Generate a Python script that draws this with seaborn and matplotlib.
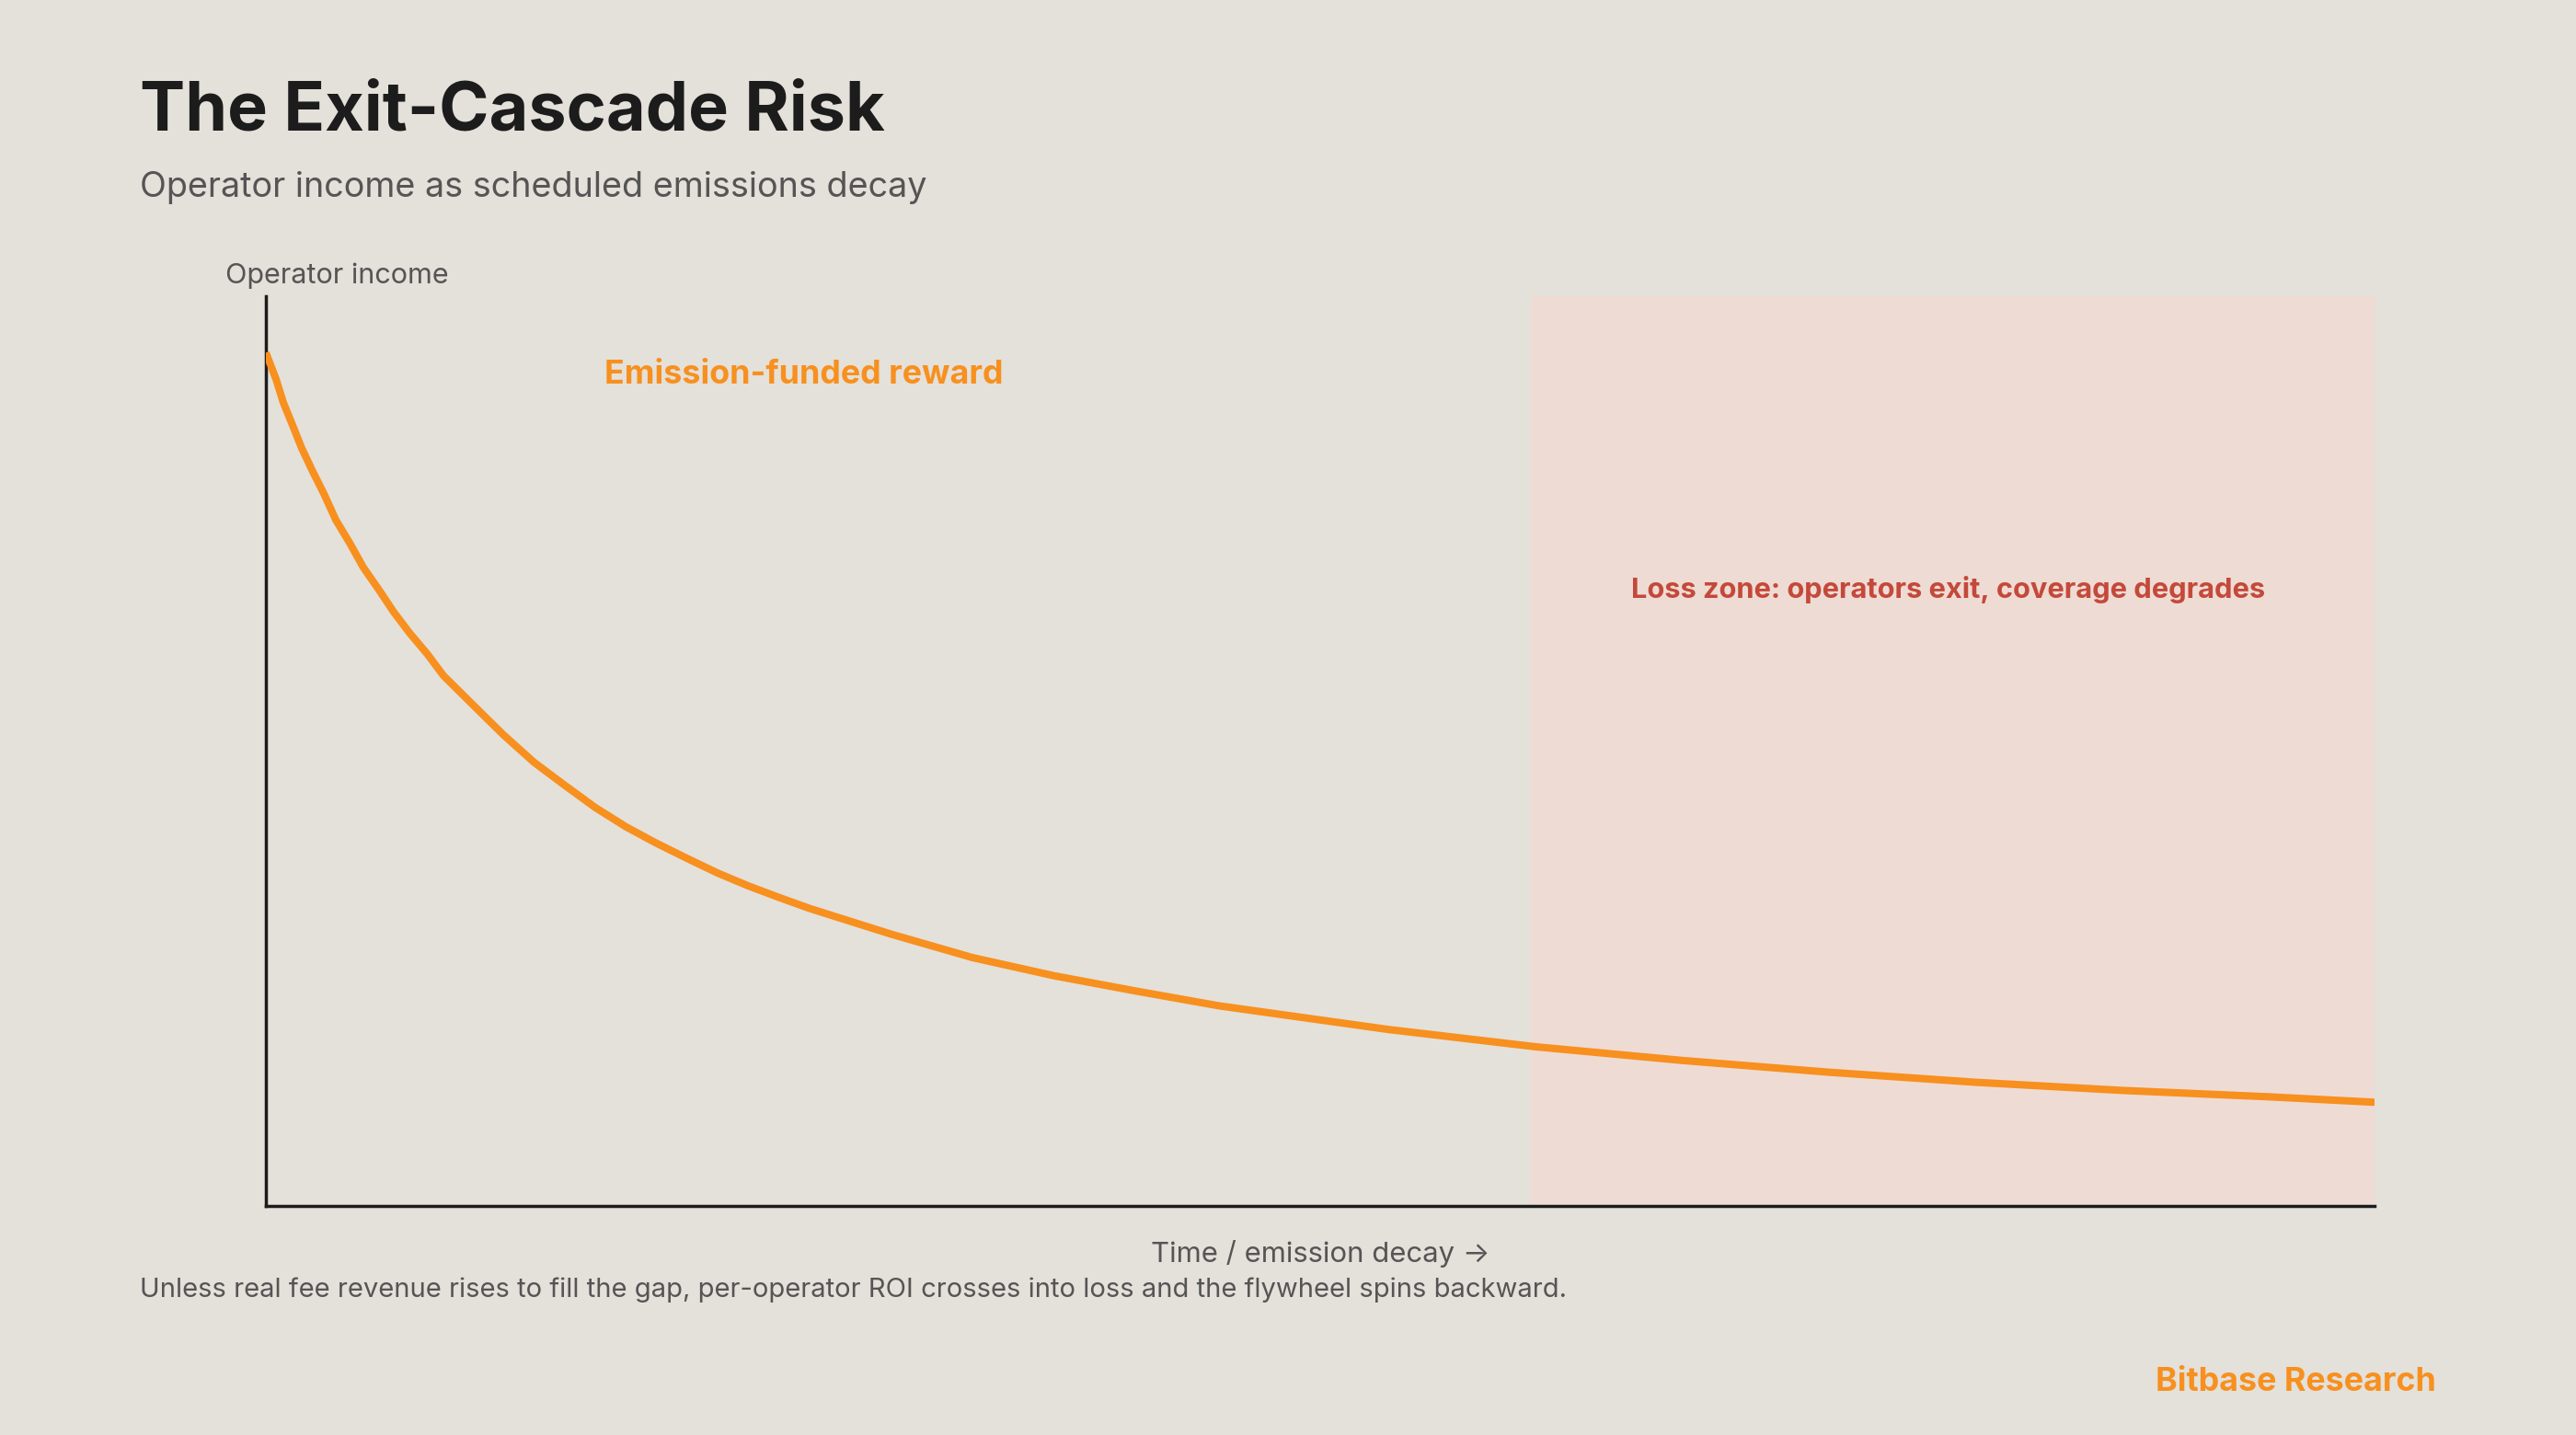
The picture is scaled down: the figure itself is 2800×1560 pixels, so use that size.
import numpy as np
import pandas as pd
import seaborn as sns
import matplotlib.pyplot as plt

# Curve (time 0-100, income 0-100)
time = [0, 0.48, 0.83, 1.27, 1.70, 2.23, 2.75, 3.32, 3.97, 4.62, 5.37, 6.06,
        6.81, 7.68, 8.42, 9.77, 11.26, 12.70, 14.14, 15.62, 17.06, 18.50,
        19.98, 21.42, 22.86, 24.35, 25.79, 29.62, 33.51, 37.39, 41.32, 45.20,
        53.23, 60.21, 67.15, 74.13, 81.06, 88.05, 94.98, 100]
income = [93.8, 90.9, 88.3, 85.8, 83.3, 80.7, 78.3, 75.4, 72.9, 70.2, 67.7, 65.3,
          63.0, 60.6, 58.3, 55.2, 51.8, 48.8, 46.3, 43.8, 41.7, 39.9,
          38.2, 36.6, 35.2, 33.9, 32.7, 29.9, 27.3, 25.3, 23.6, 22.0,
          19.4, 17.5, 16.0, 14.7, 13.6, 12.7, 12.0, 11.4]
loss_start = 60
loss_end = 100

df = pd.DataFrame({"time": time, "income": income})

BG = "#E4E0DA"
ORANGE = "#F7901E"
RED = "#C4493A"
DARK = "#1C1C1C"
GREY = "#555555"

sns.set_theme(style="white")
plt.rcParams["font.family"] = ["Inter", "DejaVu Sans"]

fig = plt.figure(figsize=(14, 7.8), dpi=200, facecolor=BG)
ax = fig.add_axes([0.1032, 0.1596, 0.9218 - 0.1032, 0.7936 - 0.1596])
ax.set_facecolor(BG)

# loss zone shading + income curve
ax.axvspan(loss_start, loss_end, color="#EEDBD4", lw=0, zorder=0)
sns.lineplot(data=df, x="time", y="income", ax=ax, color=ORANGE, lw=2.9,
             solid_capstyle="butt", solid_joinstyle="round", zorder=3)

ax.set_xlim(0, 100)
ax.set_ylim(0, 100)
ax.set_xticks([])
ax.set_yticks([])
ax.set_xlabel("")
ax.set_ylabel("")
for s in ["top", "right"]:
    ax.spines[s].set_visible(False)
for s in ["left", "bottom"]:
    ax.spines[s].set_color(DARK)
    ax.spines[s].set_linewidth(1.25)

fig.text(0.0543, 0.9096, "The Exit-Cascade Risk", fontsize=26.5, fontweight="bold",
         color=DARK, va="baseline")
fig.text(0.0543, 0.8628, "Operator income as scheduled emissions decay", fontsize=13.6,
         color=GREY, va="baseline")
fig.text(0.0875, 0.8026, "Operator income", fontsize=11, color=GREY, va="baseline")
fig.text(0.2346, 0.7327, "Emission-funded reward", fontsize=12.9, fontweight="bold",
         color=ORANGE, va="baseline")
fig.text(0.7564, 0.5833, "Loss zone: operators exit, coverage degrades", fontsize=11.1,
         fontweight="bold", color=RED, va="baseline", ha="center")
fig.text(0.5125, 0.1205, "Time / emission decay \u2192", fontsize=11.2, color=GREY,
         va="baseline", ha="center")
fig.text(0.0543, 0.0962,
         "Unless real fee revenue rises to fill the gap, per-operator ROI crosses into loss "
         "and the flywheel spins backward.",
         fontsize=10.5, color=GREY, va="baseline")
fig.text(0.9457, 0.0308, "Bitbase Research", fontsize=12.9, fontweight="bold",
         color=ORANGE, va="baseline", ha="right")

fig.savefig("out.png", dpi=200, facecolor=BG)
